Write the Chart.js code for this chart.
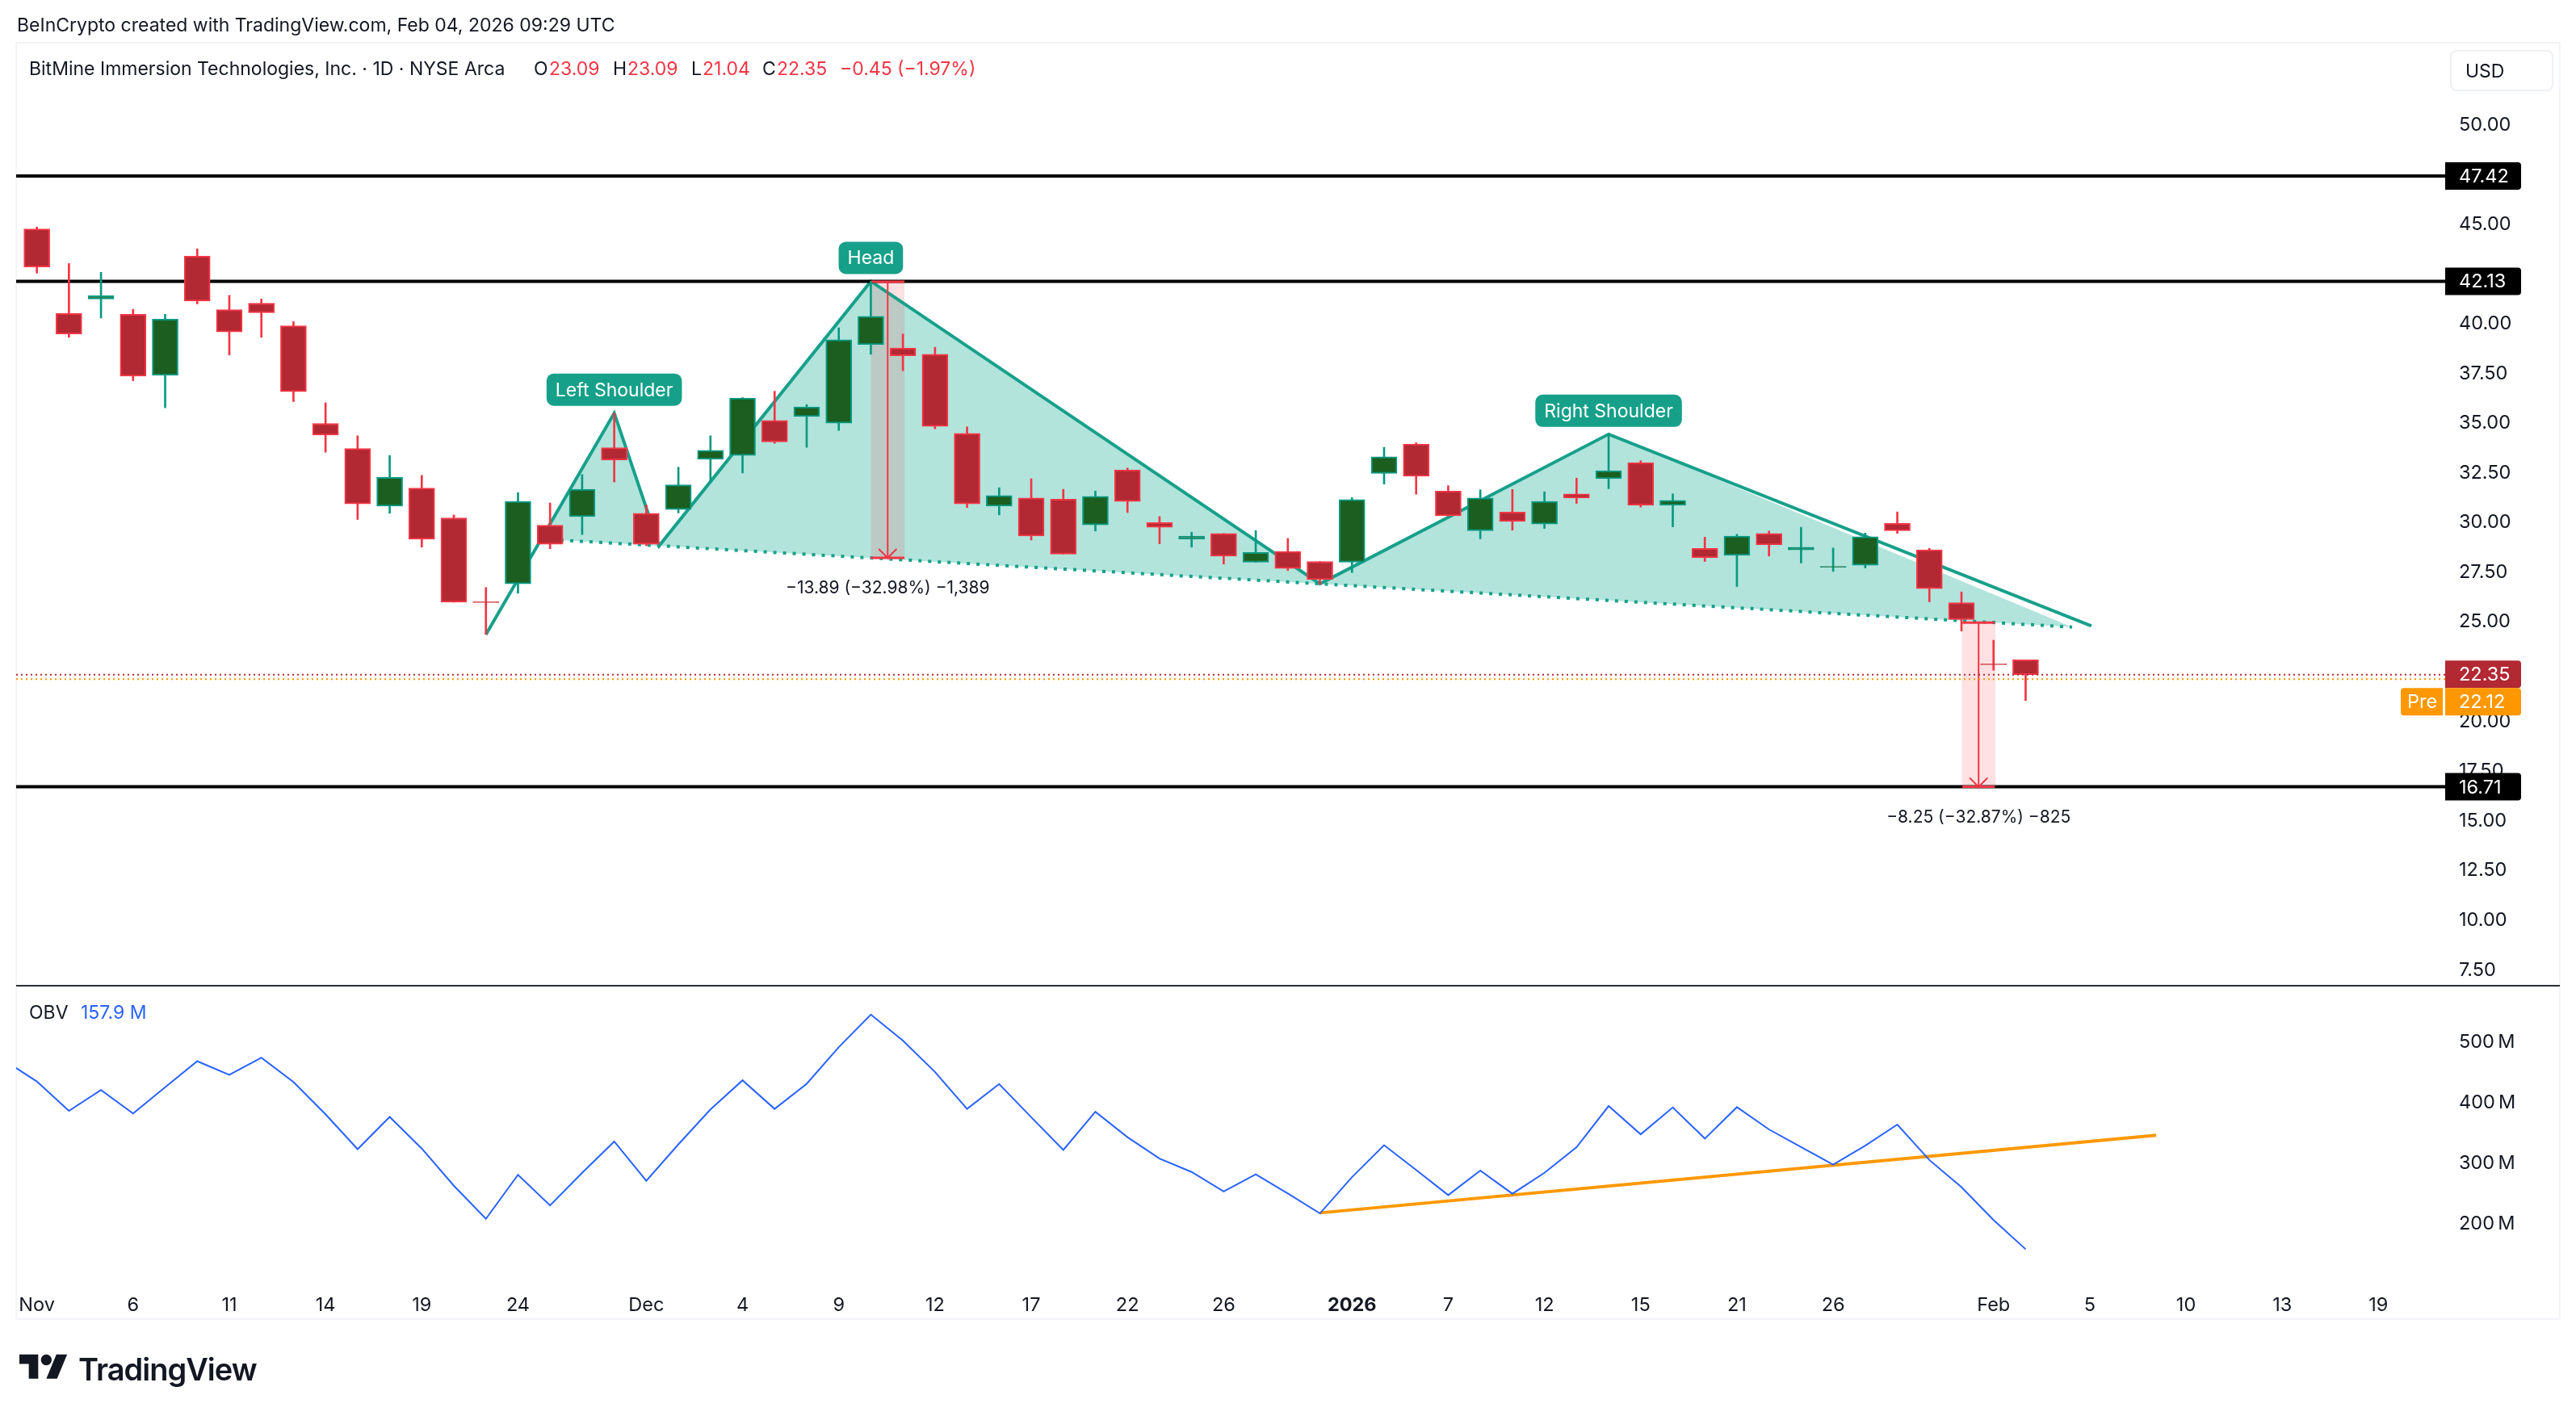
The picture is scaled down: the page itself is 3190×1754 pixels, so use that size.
<!DOCTYPE html>
<html>
<head>
<meta charset="utf-8">
<script src="https://cdn.jsdelivr.net/npm/chart.js@4"></script>
<style>
html,body{margin:0;padding:0;background:#fff;width:3190px;height:1754px;overflow:hidden;font-family:Inter,sans-serif;color:#131722}
canvas{position:absolute;left:0;top:0}
.t{position:absolute;white-space:nowrap;line-height:1;font-size:23px;transform:translateY(-50%)}
.r{color:#F23645}
#usd{position:absolute;left:3034px;top:62px;width:128px;height:51px;box-sizing:border-box;border:2px solid #EEF0F4;border-radius:8px}
</style>
</head>
<body>
<canvas id="c" width="3190" height="1754"></canvas>
<div class="t" style="left:21px;top:31px">BeInCrypto created with TradingView.com, Feb 04, 2026 09:29 UTC</div>
<div class="t" style="left:36px;top:85px">BitMine Immersion Technologies, Inc. · 1D · NYSE Arca</div>
<div class="t" style="left:661px;top:85px">O</div><div class="t r" style="left:680px;top:85px">23.09</div>
<div class="t" style="left:759px;top:85px">H</div><div class="t r" style="left:777px;top:85px">23.09</div>
<div class="t" style="left:856px;top:85px">L</div><div class="t r" style="left:870px;top:85px">21.04</div>
<div class="t" style="left:944px;top:85px">C</div><div class="t r" style="left:962px;top:85px">22.35</div>
<div class="t r" style="left:1040px;top:85px">−0.45 (−1.97%)</div>
<div id="usd"></div>
<div class="t" style="left:3053px;top:88px">USD</div>
<div class="t" style="left:36px;top:1254px">OBV</div>
<div class="t" style="left:100px;top:1254px;color:#2962FF">157.9 M</div>
<svg style="position:absolute;left:24px;top:1671px" width="60" height="47" viewBox="0 0 36 28"><path fill="#131722" d="M14 22H7V11H0V4h14v18zM28 22h-8l7.5-18h8L28 22z"/><circle fill="#131722" cx="20" cy="8" r="4"/></svg>
<div class="t" style="left:97px;top:1696px;font-size:38px;font-weight:600;letter-spacing:-1px">TradingView</div>

<script>
// One entry per daily session, Nov 3 2025 (index 0) to Feb 3 2026 (index 62)
const opens = [44.76,40.51,41.24,40.47,37.40,43.39,40.70,41.03,39.89,34.98,33.72,30.82,31.73,30.23,26.02,26.92,29.86,30.30,33.76,30.46,30.65,33.18,33.37,35.13,35.33,34.99,38.94,38.77,38.46,34.48,30.82,31.23,31.17,29.88,32.64,29.99,29.16,29.45,28.00,28.54,28.04,28.00,32.47,33.94,31.58,29.59,30.52,29.92,31.44,32.20,33.01,30.86,28.70,28.35,29.45,28.62,27.75,27.85,29.95,28.62,25.97,22.89,23.09];
const highs = [44.86,43.02,42.58,40.72,40.47,43.76,41.42,41.24,40.10,36.02,34.36,33.37,32.37,30.38,26.73,31.50,30.98,32.41,35.50,30.88,32.78,34.36,36.28,36.60,35.93,39.79,42.13,39.48,38.81,34.81,31.75,32.20,31.67,31.58,32.74,30.30,29.51,29.45,29.59,29.20,28.04,31.25,33.78,34.01,31.85,31.64,31.66,31.54,32.23,34.44,33.11,31.44,29.26,29.41,29.57,29.76,28.72,29.47,30.53,28.70,26.51,24.08,23.09];
const lows = [42.54,39.31,40.28,37.13,35.77,40.99,38.42,39.31,36.08,33.53,30.15,30.46,28.76,25.99,24.37,26.44,28.68,29.39,32.04,28.83,30.48,32.08,32.49,33.98,33.78,34.63,38.46,37.63,34.71,30.75,30.38,29.12,28.41,29.57,30.50,28.93,28.76,27.91,28.00,27.58,26.88,27.48,31.93,31.42,30.32,29.18,29.61,29.70,30.96,31.70,30.77,29.78,28.04,26.78,28.31,27.96,27.54,27.71,29.45,26.01,24.54,22.57,21.04];
const closes = [42.85,39.48,41.40,37.36,40.22,41.13,39.58,40.55,36.58,34.40,30.94,32.27,29.16,25.99,25.97,31.06,28.91,31.67,33.14,28.91,31.89,33.63,36.26,34.05,35.81,39.19,40.37,38.38,34.83,30.94,31.35,29.32,28.41,31.31,31.06,29.76,29.32,28.31,28.49,27.69,27.13,31.15,33.30,32.33,30.34,31.23,30.05,31.06,31.23,32.60,30.86,31.11,28.23,29.32,28.87,28.76,27.79,29.28,29.59,26.67,25.12,22.85,22.35];
const obvPrior = 469.3; // session before the first visible one, off the left edge
const obv = [434.9,386.3,420.8,382.1,425.5,468.4,445.8,474.1,434.0,380.7,323.1,376.4,324.1,262.7,208.0,280.7,230.2,284.0,335.8,270.8,331.1,388.7,436.8,389.6,431.1,491.5,545.3,502.4,450.5,389.6,430.7,375.9,321.7,384.9,342.9,307.5,285.4,253.3,281.6,250.0,217.0,276.9,329.7,288.7,247.2,287.7,249.5,284.0,326.4,394.3,347.6,392.0,340.6,392.5,355.7,326.4,297.6,328.8,363.7,305.2,260.4,206.1,157.9];
const timeTickIndex = [0,3,6,9,12,15,19,22,25,28,31,34,37,41,44,47,50,53,56,61,64,67,70,73];
const timeTickLabels = ['Nov','6','11','14','19','24','Dec','4','9','12','17','22','26','2026','7','12','15','21','26','Feb','5','10','13','19'];
const priceTicks = [7.5,10,12.5,15,17.5,20,25,27.5,30,32.5,35,37.5,40,45,50];
const obvTicks = [200,300,400,500];
const levels = [47.42,42.13,16.71];
const lastClose = 22.35, prePrice = 22.12;
// Head and shoulders drawing
const patternX = [14,18,19.4,26,40,49,64.05];
const patternY = [24.37,35.50,28.83,42.13,26.92,34.44,24.80];
const fillX = [15.72,18,19.4,26,40,49,63.45];
const fillY = [29.17,35.50,28.83,42.13,26.92,34.44,24.74];
const necklineX = [15.72,63.45];
const necklineY = [29.17,24.74];
const obvTrendX = [40,66.07];
const obvTrendY = [217.9,346.2];
// Price-range measurements: x from, x to, top, bottom
const measures = [[26,27.05,42.11,28.22],[60.03,61.04,24.96,16.71]];
const measureLabels = ['−13.89 (−32.98%) −1,389','−8.25 (−32.87%) −825'];
const patternLabels = [['Left Shoulder',18,35.50],['Head',26,42.13],['Right Shoulder',49,34.44]];

const RED='#F23645', REDF='#B22833', GRN='#089981', GRNF='#1B5E20', TEAL='#17A08A', FONT='Inter, sans-serif';
const idx = opens.map((_,i)=>i);
const isUp = i => closes[i] >= opens[i];
const pts = (xs,ys) => xs.map((x,i)=>({x,y:ys[i]}));
const line = (data,color,width,order,extra={}) => Object.assign({type:'line',data,borderColor:color,borderWidth:width,pointRadius:0,tension:0,fill:false,order,yAxisID:'y',borderCapStyle:'butt'},extra);
const bars = (data,bg,border,bw,thick,order) => ({type:'bar',data,backgroundColor:bg,borderColor:border,borderWidth:bw,borderSkipped:false,barThickness:thick,grouped:false,order,yAxisID:'y'});

const wick = up => idx.filter(i=>isUp(i)===up).map(i=>({x:i,y:[lows[i],highs[i]]}));
const body = up => idx.filter(i=>isUp(i)===up).map(i=>({x:i,y:[opens[i],closes[i]]}));
const XMIN=-0.645, XMAX=75.08;

const ds = [];
// index 0: neckline (fill target)
ds.push(line(pts(necklineX,necklineY),TEAL,4,80,{borderDash:[4,8]}));
ds.push(line(pts(fillX,fillY),'rgba(0,0,0,0)',0,100,{fill:{target:0,above:'#B2E4DC',below:'#B2E4DC'}}));
measures.forEach(m=>ds.push(bars([{x:(m[0]+m[1])/2,y:[m[3],m[2]]}],'rgba(242,54,69,0.15)','rgba(0,0,0,0)',0,41,90)));
ds.push(line(pts(patternX,patternY),TEAL,4,70));
levels.forEach(v=>ds.push(line([{x:XMIN,y:v},{x:XMAX,y:v}],'#000000',4,60)));
measures.forEach(m=>{
  const c=(m[0]+m[1])/2;
  ds.push(line([{x:m[0],y:m[3]},{x:m[1],y:m[3]}],RED,3,50));
  ds.push(line([{x:m[0],y:m[2]},{x:m[1],y:m[2]}],RED,3,50));
  ds.push(line([{x:c,y:m[2]},{x:c,y:m[3]},{x:c-0.28,y:m[3]+0.45},{x:c,y:m[3]},{x:c+0.28,y:m[3]+0.45}],RED,2,50));
});
ds.push(bars(wick(false),RED,RED,0,2,40));
ds.push(bars(wick(true),GRN,GRN,0,2,40));
ds.push(bars(body(false),REDF,RED,2,32,30));
ds.push(bars(body(true),GRNF,GRN,2,32,30));
ds.push(line([{x:XMIN,y:lastClose},{x:XMAX,y:lastClose}],REDF,2,20,{borderDash:[2,4]}));
ds.push(line([{x:XMIN,y:prePrice},{x:XMAX,y:prePrice}],'#FF9800',2,20,{borderDash:[2,4]}));
ds.push(line(pts(obvTrendX,obvTrendY),'#FF9800',4,10,{yAxisID:'y2'}));
ds.push(line([{x:-1,y:obvPrior},...obv.map((v,i)=>({x:i,y:v}))],'#2962FF',2,5,{yAxisID:'y2'}));

function tag(ctx,x0,x1,yc,h,bg,label,textX,roundL,roundR){
  ctx.fillStyle=bg;ctx.beginPath();
  ctx.roundRect(x0,yc-h/2,x1-x0,h,[roundL,roundR,roundR,roundL]);ctx.fill();
  ctx.fillStyle='#fff';ctx.font='23.5px '+FONT;ctx.textAlign='left';ctx.textBaseline='middle';
  ctx.fillText(label,textX,yc+1);
}
const overlay = {
  id:'overlay',
  beforeDraw(chart){
    const {ctx,chartArea:a,scales}=chart;
    ctx.save();
    ctx.strokeStyle='#F3F4F7';ctx.lineWidth=2;
    ctx.strokeRect(a.left,a.top-1,chart.width-2*a.left,scales.x.bottom-a.top+1);
    ctx.restore();
  },
  afterDatasetsDraw(chart){
    const {ctx,scales:{x,y}}=chart;
    ctx.save();
    ctx.textBaseline='middle';ctx.textAlign='center';
    patternLabels.forEach(([txt,xv,yv])=>{
      ctx.font='23px '+FONT;
      const w=ctx.measureText(txt).width+22, cx=x.getPixelForValue(xv), b=y.getPixelForValue(yv)-9;
      ctx.fillStyle='#16A089';ctx.beginPath();ctx.roundRect(cx-w/2,b-40,w,40,9);ctx.fill();
      ctx.fillStyle='#fff';ctx.fillText(txt,cx,b-19);
    });
    ctx.fillStyle='#131722';ctx.font='21px '+FONT;
    measures.forEach((m,i)=>ctx.fillText(measureLabels[i],x.getPixelForValue((m[0]+m[1])/2),y.getPixelForValue(m[3])+38));
    ctx.restore();
  },
  afterDraw(chart){
    const {ctx,chartArea:a,scales:{y,y2}}=chart;
    ctx.save();
    ctx.strokeStyle='#2A2E39';ctx.lineWidth=2;ctx.beginPath();
    ctx.moveTo(a.left,y.bottom);ctx.lineTo(chart.width-a.left,y.bottom);ctx.stroke();
    const L=a.right,R=a.right+94,TX=a.right+17;
    levels.forEach(v=>tag(ctx,L,R,y.getPixelForValue(v),34,'#000',v.toFixed(2),TX,0,4));
    const yc=y.getPixelForValue(lastClose)-0.5;
    tag(ctx,L,R,yc,34,REDF,lastClose.toFixed(2),TX,0,4);
    tag(ctx,L,R,yc+34,34,'#FF9800',prePrice.toFixed(2),TX,0,4);
    tag(ctx,L-55,L-3,yc+34,34,'#FF9800','Pre',L-47,4,0);
    ctx.restore();
  }
};

new Chart(document.getElementById('c'),{
  type:'bar',
  data:{datasets:ds},
  plugins:[overlay],
  options:{
    responsive:false,animation:false,devicePixelRatio:1,events:[],
    layout:{padding:{left:20,right:20,top:54,bottom:120}},
    plugins:{legend:{display:false},tooltip:{enabled:false}},
    scales:{
      x:{type:'linear',offset:false,min:XMIN,max:XMAX,grid:{display:false},border:{display:false},
        afterBuildTicks:ax=>{ax.ticks=timeTickIndex.map(v=>({value:v}));},
        afterFit:ax=>{ax.height=57;},
        ticks:{autoSkip:false,maxRotation:0,color:'#131722',padding:18,
          callback:v=>timeTickLabels[timeTickIndex.indexOf(v)],
          font:c=>({family:FONT,size:23.5,weight:c.tick&&c.tick.value===41?'700':'400'})}},
      y:{type:'linear',position:'right',stack:'panes',stackWeight:1166.8,min:6.71,max:54.08,
        grid:{display:false,drawTicks:false},border:{display:false},
        afterBuildTicks:ax=>{ax.ticks=priceTicks.map(v=>({value:v}));},
        afterFit:ax=>{ax.width=142;},
        ticks:{crossAlign:'near',padding:17,color:'#131722',font:{family:FONT,size:23.5},autoSkip:false,callback:v=>v.toFixed(2)}},
      y2:{type:'linear',position:'right',stack:'panes',stackWeight:356,min:118.4,max:593.1,
        grid:{display:false,drawTicks:false},border:{display:false},
        afterBuildTicks:ax=>{ax.ticks=obvTicks.map(v=>({value:v}));},
        afterFit:ax=>{ax.width=142;},
        ticks:{crossAlign:'near',padding:17,color:'#131722',font:{family:FONT,size:23.5},autoSkip:false,callback:v=>v+'\u2009M'}}
    }
  }
});
</script>
</body>
</html>
